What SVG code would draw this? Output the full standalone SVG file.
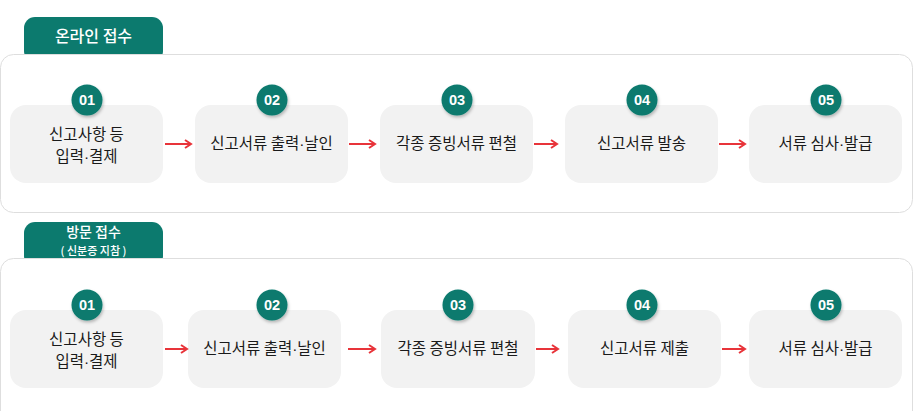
<svg xmlns="http://www.w3.org/2000/svg" width="924" height="411" viewBox="0 0 924 411">
<style>
.panel{fill:#ffffff;stroke:#dedede;stroke-width:1}
.tab{fill:#0c7a6e}
.tabt{fill:#ffffff;font-family:"Noto Sans CJK KR","Noto Sans",sans-serif;font-weight:500;text-anchor:middle}
.box{fill:#f2f2f2}
.num{fill:#0c7a6e}
.numt{fill:#ffffff;font-family:"Liberation Sans",Arial,sans-serif;font-weight:bold;font-size:14.5px;text-anchor:middle}
.lbl{fill:#1a1a1a;font-family:"Noto Sans CJK KR","Noto Sans",sans-serif;font-size:15.5px;text-anchor:middle}
.dot{font-family:"Liberation Sans",Arial,sans-serif}
.arr{stroke:#e8343a;stroke-width:2;fill:none}
</style>
<defs>
<filter id="sh" x="-50%" y="-50%" width="200%" height="200%">
<feDropShadow dx="1" dy="2" stdDeviation="1.5" flood-color="#000" flood-opacity="0.25"/>
</filter>
<marker id="ah" markerWidth="10" markerHeight="10" refX="7" refY="5" orient="auto" markerUnits="userSpaceOnUse">
<path d="M1,1 L7,5 L1,9" fill="none" stroke="#e8343a" stroke-width="2"/>
</marker>
</defs>

<g id="panel-online">
<rect class="tab" x="24" y="17" width="139" height="45" rx="11"/>
<rect class="panel" x="0.5" y="54.5" width="912" height="158" rx="13"/>
<text class="tabt" x="93.5" y="42" font-size="16">온라인 접수</text>
</g>

<g id="panel-visit">
<rect class="tab" x="24" y="222" width="139" height="45" rx="11"/>
<rect class="panel" x="0.5" y="258.5" width="912" height="170" rx="13"/>
<text class="tabt" x="93.5" y="237" font-size="14">방문 접수</text>
<text class="tabt" x="93.5" y="255" font-size="11">( 신분증 지참 )</text>
</g>

<g id="t1">
<rect class="box" x="10" y="105" width="153" height="78" rx="16"/>
<circle class="num" cx="87" cy="100" r="15.5" filter="url(#sh)"/>
<text class="numt" x="87" y="105">01</text>
<text class="lbl" x="86.5" y="140">신고사항 등</text>
<text class="lbl" x="86.5" y="162">입력<tspan class="dot">·</tspan>결제</text>
</g>
<g id="t2">
<rect class="box" x="195" y="105" width="153" height="78" rx="16"/>
<circle class="num" cx="272" cy="100" r="15.5" filter="url(#sh)"/>
<text class="numt" x="272" y="105">02</text>
<text class="lbl" x="271.5" y="149">신고서류 출력<tspan class="dot">·</tspan>날인</text>
</g>
<g id="t3">
<rect class="box" x="380" y="105" width="153" height="78" rx="16"/>
<circle class="num" cx="457" cy="100" r="15.5" filter="url(#sh)"/>
<text class="numt" x="457" y="105">03</text>
<text class="lbl" x="456.5" y="149">각종 증빙서류 편철</text>
</g>
<g id="t4">
<rect class="box" x="565" y="105" width="153" height="78" rx="16"/>
<circle class="num" cx="642" cy="100" r="15.5" filter="url(#sh)"/>
<text class="numt" x="642" y="105">04</text>
<text class="lbl" x="641.5" y="149">신고서류 발송</text>
</g>
<g id="t5">
<rect class="box" x="749" y="105" width="153" height="78" rx="16"/>
<circle class="num" cx="826" cy="100" r="15.5" filter="url(#sh)"/>
<text class="numt" x="826" y="105">05</text>
<text class="lbl" x="825.5" y="149">서류 심사<tspan class="dot">·</tspan>발급</text>
</g>

<g id="b1">
<rect class="box" x="10" y="310" width="153" height="78" rx="16"/>
<circle class="num" cx="87" cy="305" r="15.5" filter="url(#sh)"/>
<text class="numt" x="87" y="310">01</text>
<text class="lbl" x="86.5" y="345">신고사항 등</text>
<text class="lbl" x="86.5" y="367">입력<tspan class="dot">·</tspan>결제</text>
</g>
<g id="b2">
<rect class="box" x="188" y="310" width="153" height="78" rx="16"/>
<circle class="num" cx="272" cy="305" r="15.5" filter="url(#sh)"/>
<text class="numt" x="272" y="310">02</text>
<text class="lbl" x="264.5" y="354">신고서류 출력<tspan class="dot">·</tspan>날인</text>
</g>
<g id="b3">
<rect class="box" x="381" y="310" width="154" height="78" rx="16"/>
<circle class="num" cx="458" cy="305" r="15.5" filter="url(#sh)"/>
<text class="numt" x="458" y="310">03</text>
<text class="lbl" x="458" y="354">각종 증빙서류 편철</text>
</g>
<g id="b4">
<rect class="box" x="568" y="310" width="153" height="78" rx="16"/>
<circle class="num" cx="642" cy="305" r="15.5" filter="url(#sh)"/>
<text class="numt" x="642" y="310">04</text>
<text class="lbl" x="644.5" y="354">신고서류 제출</text>
</g>
<g id="b5">
<rect class="box" x="749" y="310" width="153" height="78" rx="16"/>
<circle class="num" cx="826" cy="305" r="15.5" filter="url(#sh)"/>
<text class="numt" x="826" y="310">05</text>
<text class="lbl" x="825.5" y="354">서류 심사<tspan class="dot">·</tspan>발급</text>
</g>

<g id="connectors">
<line class="arr" x1="165" y1="144" x2="191" y2="144" marker-end="url(#ah)"/>
<line class="arr" x1="349" y1="144" x2="375" y2="144" marker-end="url(#ah)"/>
<line class="arr" x1="534" y1="144" x2="557" y2="144" marker-end="url(#ah)"/>
<line class="arr" x1="719" y1="144" x2="745" y2="144" marker-end="url(#ah)"/>
<line class="arr" x1="165" y1="349" x2="187" y2="349" marker-end="url(#ah)"/>
<line class="arr" x1="348" y1="349" x2="375" y2="349" marker-end="url(#ah)"/>
<line class="arr" x1="536" y1="349" x2="558" y2="349" marker-end="url(#ah)"/>
<line class="arr" x1="722" y1="349" x2="745" y2="349" marker-end="url(#ah)"/>
</g>
</svg>
